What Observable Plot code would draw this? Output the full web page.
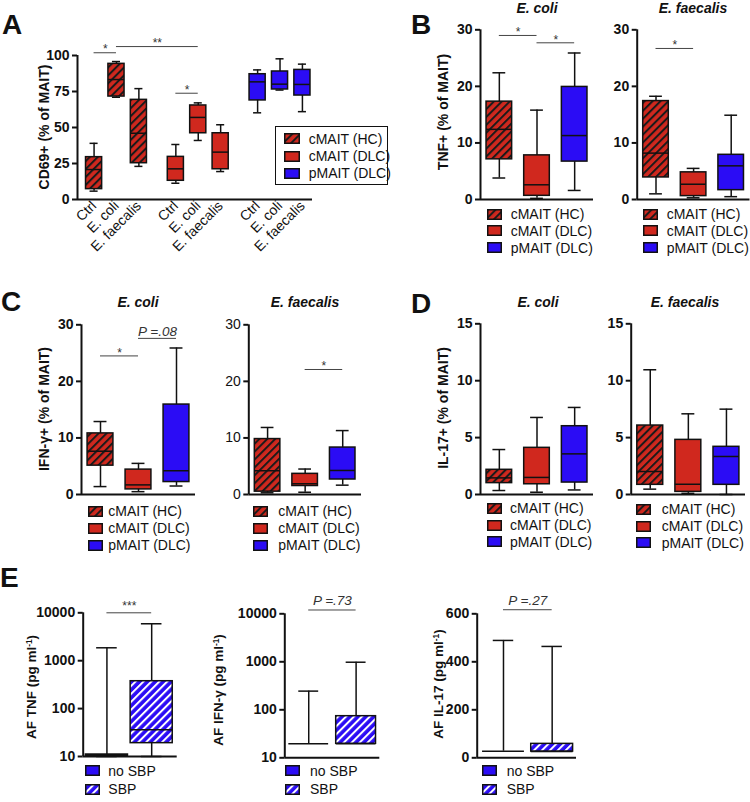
<!DOCTYPE html>
<html>
<head>
<meta charset="utf-8">
<script src="https://cdn.jsdelivr.net/npm/d3@7"></script>
<script src="https://cdn.jsdelivr.net/npm/@observablehq/plot@0.6"></script>
<style>
  body { margin: 0; background: #fff; font-family: "Liberation Sans", Arial, sans-serif; color: #111; }
  #fig { position: relative; width: 750px; height: 802px; overflow: hidden; background: #fff; }
  .t { position: absolute; white-space: nowrap; line-height: 1; }
  #fig svg g[aria-label^="y-axis"] line, #fig svg g[aria-label^="y-axis"] path { stroke-width: 2px; }
  sup { font-size: 0.62em; vertical-align: 0.55em; line-height: 0; }
</style>
</head>
<body>
<div id="fig"></div>
<script>
// ---------------- DATA ----------------
const groups = ["cMAIT (HC)", "cMAIT (DLC)", "pMAIT (DLC)"];
const stimuli = ["Ctrl", "E. coli", "E. faecalis"];
const sbpGroups = ["no SBP", "SBP"];
// each entry: [min, q1, median, q3, max]
// Panel A: CD69+ (% of MAIT), per stimulus
const cd69HC    = [[5.8, 7.2, 20.8, 29.4, 39.0], [71.0, 71.5, 83.3, 94.2, 95.8], [23.0, 25.2, 46.0, 69.2, 77.0]];
const cd69DLC   = [[11.3, 13.0, 21.3, 29.6, 38.2], [41.0, 46.0, 57.0, 65.3, 67.1], [19.4, 21.0, 32.9, 46.0, 51.9]];
const cd69pMAIT = [[60.2, 68.8, 81.7, 87.0, 90.0], [76.0, 76.4, 80.1, 88.9, 97.7], [61.0, 72.2, 79.9, 90.0, 94.0]];
// Panel B: TNF+ (% of MAIT), per group
const tnfEcoli     = [[3.8, 7.1, 12.4, 17.3, 22.4], [0.2, 0.65, 2.6, 7.8, 15.8], [1.6, 6.7, 11.3, 19.9, 25.9]];
const tnfFaecalis  = [[1.0, 3.9, 8.2, 17.4, 18.25], [0.3, 0.6, 2.7, 4.8, 5.5], [0.5, 1.65, 5.95, 7.9, 14.9]];
// Panel C: IFN-γ+ (% of MAIT)
const ifngEcoli    = [[1.4, 5.1, 7.65, 10.8, 12.9], [0.5, 0.9, 1.7, 4.4, 5.5], [1.5, 2.2, 4.2, 15.9, 25.9]];
const ifngFaecalis = [[0.3, 0.5, 4.2, 9.8, 11.85], [0.4, 1.5, 1.9, 3.65, 4.5], [1.65, 2.65, 4.25, 8.3, 11.3]];
// Panel D: IL-17+ (% of MAIT)
const il17Ecoli    = [[0.35, 1.0, 1.46, 2.17, 3.95], [0.2, 0.9, 1.5, 4.1, 6.77], [0.4, 1.05, 3.57, 6.0, 7.65]];
const il17Faecalis = [[0.47, 0.85, 2.02, 6.06, 10.96], [0.1, 0.23, 0.9, 4.8, 7.09], [0.0, 0.85, 3.34, 4.19, 7.5]];
// Panel E: ascitic fluid cytokines (pg/ml), no SBP vs SBP
const afTnf  = [[10, 10.3, 10.6, 11, 1860], [10, 19, 36, 373, 5900]];
const afIfng = [[19.6, 19.6, 19.6, 19.6, 245], [19.6, 19.6, 19.6, 73.6, 980]];
const afIl17 = [[27.5, 27.5, 27.5, 27.5, 489], [26, 26, 26, 58, 464]];
// significance annotations
const sigA = [
  {a: ["cMAIT (HC)", "Ctrl"], b: ["cMAIT (HC)", "E. coli"], level: 101.9, label: "*"},
  {a: ["cMAIT (HC)", "E. coli"], b: ["cMAIT (DLC)", "E. coli"], level: 106.2, label: "**"},
  {a: ["cMAIT (DLC)", "Ctrl"], b: ["cMAIT (DLC)", "E. coli"], level: 73.8, label: "*"}
];
const sigTnfEcoli = [{a: "cMAIT (HC)", b: "cMAIT (DLC)", level: 29.0, label: "*"}, {a: "cMAIT (DLC)", b: "pMAIT (DLC)", level: 27.7, label: "*"}];
const sigTnfFaecalis = [{a: "cMAIT (HC)", b: "cMAIT (DLC)", level: 26.7, label: "*"}];
const sigIfngEcoli = [{a: "cMAIT (HC)", b: "cMAIT (DLC)", level: 24.5, label: "*"}, {a: "cMAIT (DLC)", b: "pMAIT (DLC)", level: 27.6, label: "P =.08"}];
const sigIfngFaecalis = [{a: "cMAIT (DLC)", b: "pMAIT (DLC)", level: 22.1, label: "*"}];
const sigAfTnf = [{a: "no SBP", b: "SBP", level: 10000, label: "***"}];
const sigAfIfng = [{a: "no SBP", b: "SBP", level: 12000, label: "P =.73"}];
const sigAfIl17 = [{a: "no SBP", b: "SBP", level: 617, label: "P =.27"}];

// ---------------- STYLE ----------------
const INK = "#111";
const RED = "#d0281e";
const BLUE = "#2b0cf5";
const FONT = "'Liberation Sans', Arial, sans-serif";
const fillFor = {
  "cMAIT (HC)": "url(#hatchRed)", "cMAIT (DLC)": RED, "pMAIT (DLC)": BLUE,
  "no SBP": BLUE, "SBP": "url(#hatchBlue)"
};
const fig = document.getElementById("fig");
fig.insertAdjacentHTML("beforeend", `
<svg width="0" height="0" style="position:absolute;left:0;top:0">
  <defs>
    <pattern id="hatchRed" patternUnits="userSpaceOnUse" width="5.6" height="5.6" patternTransform="rotate(45)">
      <rect width="5.6" height="5.6" fill="${RED}"></rect>
      <rect x="0" y="0" width="2" height="5.6" fill="#1a1a1a"></rect>
    </pattern>
    <pattern id="hatchBlue" patternUnits="userSpaceOnUse" width="5.6" height="5.6" patternTransform="rotate(45)">
      <rect width="5.6" height="5.6" fill="${BLUE}"></rect>
      <rect x="0" y="0" width="2" height="5.6" fill="#ffffff"></rect>
    </pattern>
  </defs>
</svg>`);

// ---------------- HELPERS ----------------
function toRow(cat, v, pos, label) {
  return {cat, label, pos, fill: fillFor[cat], min: v[0], q1: v[1], med: v[2], q3: v[3], max: v[4]};
}

function boxPlot({frame, xDomain, yOpts, rows, hw, cap, sigs = [], xOpts = {axis: null}, normalTicks = false, starDy = -3, pDy = -7}) {
  const [x0, x1, y0, y1] = frame;
  const fills = [...new Set(rows.map(d => d.fill))];
  const L = d => d.pos - hw, R = d => d.pos + hw;
  const marks = [
    Plot.ruleX(rows, {x: "pos", y1: "min", y2: "max", stroke: INK, strokeWidth: 1.5}),
    Plot.ruleY(rows.filter(d => d.max > d.q3), {y: "max", x1: d => d.pos - cap, x2: d => d.pos + cap, stroke: INK, strokeWidth: 1.5}),
    Plot.ruleY(rows.filter(d => d.min < d.q1), {y: "min", x1: d => d.pos - cap, x2: d => d.pos + cap, stroke: INK, strokeWidth: 1.5}),
    ...fills.map(f => Plot.rectY(rows.filter(d => d.fill === f && d.q3 > d.q1), {x1: L, x2: R, y1: "q1", y2: "q3", fill: f, stroke: INK, strokeWidth: 1.5})),
    Plot.ruleY(rows, {y: "med", x1: L, x2: R, stroke: INK, strokeWidth: 1.5}),
    Plot.ruleY([yOpts.domain[0]], {stroke: INK, strokeWidth: 2}),
    Plot.ruleX([xDomain[0]], {stroke: INK, strokeWidth: 2}),
    Plot.ruleY(sigs, {y: "level", x1: "xa", x2: "xb", stroke: "#444", strokeWidth: 1}),
    Plot.text(sigs.filter(s => s.label.startsWith("*")), {x: d => (d.xa + d.xb) / 2, y: "level", text: "label", dy: starDy, fontSize: 12, fontWeight: "normal", fill: "#333"}),
    Plot.text(sigs.filter(s => !s.label.startsWith("*")), {x: d => (d.xa + d.xb) / 2, y: "level", text: "label", dy: pDy, fontSize: 13.5, fontWeight: "normal", fontStyle: "italic", fill: "#333"})
  ];
  const svg = Plot.plot({
    width: 750, height: 802,
    marginLeft: x0, marginRight: 750 - x1, marginTop: y0, marginBottom: 802 - y1,
    x: {domain: xDomain, ...xOpts},
    y: {...yOpts, tickSize: 5, tickPadding: 3, label: null},
    style: `position:absolute;left:0;top:0;background:none;overflow:visible;font-family:${FONT};font-size:14px;color:${INK};`,
    marks
  });
  // style the axis tick labels (all texts that are not annotation text marks)
  svg.querySelectorAll("text").forEach(t => {
    if (t.closest('g[aria-label="text"]')) return;
    const rotated = (t.getAttribute("transform") || "").includes("rotate");
    t.style.fontFamily = FONT;
    t.style.fill = INK;
    if (rotated) { t.style.fontSize = "14px"; t.style.fontWeight = "normal"; }
    else { t.style.fontSize = "14px"; t.style.fontWeight = normalTicks ? "normal" : "bold"; }
  });
  fig.appendChild(svg);
  return svg;
}

function text(html, left, top, {size = 14, weight = "normal", style = "normal", transform = ""} = {}) {
  const d = document.createElement("div");
  d.className = "t";
  d.innerHTML = html;
  Object.assign(d.style, {left: left + "px", top: top + "px", fontSize: size + "px", fontWeight: weight, fontStyle: style, transform});
  fig.appendChild(d);
  return d;
}
const baselineText = (html, cx, baseline, opts) => text(html, cx, baseline - 0.85 * opts.size, {...opts, transform: "translateX(-50%)"});
const yLabel = (html, cx, cy, size = 14) => text(html, cx, cy, {size, weight: "bold", transform: "translate(-50%,-50%) rotate(-90deg)"});

function legend(items, swX, txX, rowYs, swW = 15, swH = 11) {
  items.forEach((it, i) => {
    const y = rowYs[i];
    fig.insertAdjacentHTML("beforeend",
      `<svg width="${swW}" height="${swH}" style="position:absolute;left:${swX}px;top:${y - swH / 2}px">
         <rect x="0.75" y="0.75" width="${swW - 1.5}" height="${swH - 1.5}" fill="${fillFor[it]}" stroke="${INK}" stroke-width="1.5"></rect>
       </svg>`);
    text(it, txX, y - 6.9, {size: 14});
  });
}

// ---------------- PANEL A ----------------
const GROUP_STEP = 3.65;
const posA = (g, s) => groups.indexOf(g) * GROUP_STEP + stimuli.indexOf(s);
const rowsA = groups.flatMap((g, gi) => [cd69HC, cd69DLC, cd69pMAIT][gi].map((v, si) => toRow(g, v, posA(g, stimuli[si]), stimuli[si])));
boxPlot({
  frame: [77, 312, 55, 199], xDomain: [-0.74, 9.75],
  xOpts: {ticks: rowsA.map(d => d.pos), tickFormat: p => (rowsA.find(d => Math.abs(d.pos - p) < 1e-6) || {}).label, tickRotate: -45, tickSize: 0, tickPadding: 4, label: null},
  yOpts: {domain: [0, 100], ticks: [0, 25, 50, 75, 100]},
  rows: rowsA, hw: 0.36, cap: 0.18, starDy: -3.5,
  sigs: sigA.map(s => ({...s, xa: posA(...s.a), xb: posA(...s.b)}))
});

// ---------------- PANELS B, C, D ----------------
const rowsOf = vals => groups.map((g, i) => toRow(g, vals[i], i, g));
const sigsOf = sigs => sigs.map(s => ({...s, xa: groups.indexOf(s.a), xb: groups.indexOf(s.b)}));
const tri = {xDomain: [-0.5, 2.5], hw: 0.34, cap: 0.17};
const y30 = {domain: [0, 30], ticks: [0, 10, 20, 30]};
const y15 = {domain: [0, 15], ticks: [0, 5, 10, 15]};
boxPlot({...tri, frame: [480, 593, 29.3, 199], yOpts: y30, rows: rowsOf(tnfEcoli), sigs: sigsOf(sigTnfEcoli)});
boxPlot({...tri, frame: [636.7, 749.5, 29.3, 199], yOpts: y30, rows: rowsOf(tnfFaecalis), sigs: sigsOf(sigTnfFaecalis)});
boxPlot({...tri, frame: [81, 195, 324.3, 494], yOpts: y30, rows: rowsOf(ifngEcoli), sigs: sigsOf(sigIfngEcoli)});
boxPlot({...tri, frame: [248.3, 361, 324.3, 494], yOpts: y30, rows: rowsOf(ifngFaecalis), sigs: sigsOf(sigIfngFaecalis), normalTicks: true});
boxPlot({...tri, frame: [480, 593, 323.3, 494], yOpts: y15, rows: rowsOf(il17Ecoli)});
boxPlot({...tri, frame: [630.7, 745, 323.3, 494], yOpts: y15, rows: rowsOf(il17Faecalis)});

// ---------------- PANEL E ----------------
const rowsE = vals => sbpGroups.map((g, i) => toRow(g, vals[i], i, g));
const sigsE = sigs => sigs.map(s => ({...s, xa: sbpGroups.indexOf(s.a), xb: sbpGroups.indexOf(s.b)}));
const yLog = {type: "log", domain: [10, 10000], ticks: [10, 100, 1000, 10000], tickFormat: d => String(d)};
boxPlot({frame: [82.7, 176.7, 612.3, 756], xDomain: [-0.53, 1.57], hw: 0.47, cap: 0.23, yOpts: yLog, rows: rowsE(afTnf), sigs: sigsE(sigAfTnf), starDy: -6.5});
boxPlot({frame: [284.3, 379.3, 613.3, 757.3], xDomain: [-0.505, 1.5], hw: 0.42, cap: 0.21, yOpts: yLog, rows: rowsE(afIfng), sigs: sigsE(sigAfIfng), pDy: -9.5});
boxPlot({frame: [476.7, 576, 613.3, 757.3], xDomain: [-0.54, 1.5], hw: 0.43, cap: 0.21, yOpts: {domain: [0, 600], ticks: [0, 200, 400, 600]}, rows: rowsE(afIl17), sigs: sigsE(sigAfIl17), pDy: -9.5});

// ---------------- TEXT: letters, titles, axis labels ----------------
[["A", 2, 35], ["B", 411, 35], ["C", 1, 312], ["D", 411, 314], ["E", 0, 588]]
  .forEach(([l, x, b]) => text(l, x, b - 0.85 * 28, {size: 28, weight: "bold"}));
[["E. coli", 537, 13], ["E. faecalis", 693, 13], ["E. coli", 138, 307], ["E. faecalis", 305, 307], ["E. coli", 538, 307], ["E. faecalis", 685, 307]]
  .forEach(([t, cx, b]) => baselineText(t, cx, b, {size: 14, weight: "bold", style: "italic"}));
yLabel("CD69+ (% of MAIT)", 43.5, 127);
yLabel("TNF+ (% of MAIT)", 442.5, 112);
yLabel("IFN-γ+ (% of MAIT)", 43.5, 409);
yLabel("IL-17+ (% of MAIT)", 443, 407.5);
yLabel("AF TNF (pg ml<sup>-1</sup>)", 32, 687, 13.5);
yLabel("AF IFN-γ (pg ml<sup>-1</sup>)", 218.5, 690, 13.5);
yLabel("AF IL-17 (pg ml<sup>-1</sup>)", 439, 684, 13.5);

// ---------------- LEGENDS ----------------
const boxA = document.createElement("div");
Object.assign(boxA.style, {position: "absolute", left: "275px", top: "125.7px", width: "113px", height: "59.3px", border: "1.5px solid #111", boxSizing: "border-box"});
fig.appendChild(boxA);
legend(groups, 284, 308.7, [138.7, 156, 173.3], 16, 11);
legend(groups, 486.7, 510.7, [214, 230.7, 247.7]);
legend(groups, 642.7, 666.7, [214, 230.7, 247.7]);
legend(groups, 88.3, 108.3, [511, 528, 545]);
legend(groups, 253.3, 278.3, [511, 528, 545]);
legend(groups, 486.7, 510, [508.3, 525, 541.7]);
legend(groups, 636, 661.7, [509, 526, 542.7]);
legend(sbpGroups, 85, 108.3, [770.5, 789]);
legend(sbpGroups, 285, 310, [770.5, 789]);
legend(sbpGroups, 482.3, 506.7, [770.5, 789]);
</script>
</body>
</html>
